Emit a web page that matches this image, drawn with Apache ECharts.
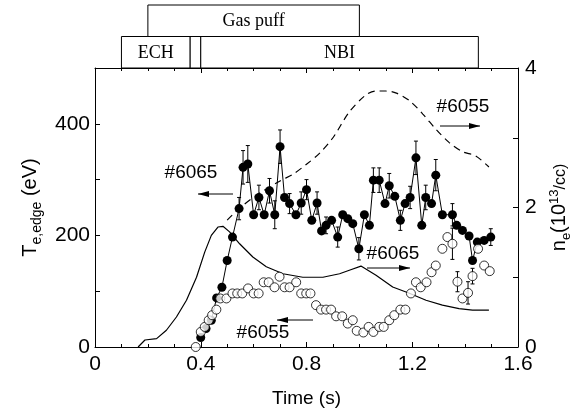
<!DOCTYPE html>
<html>
<head>
<meta charset="utf-8">
<script src="https://cdn.jsdelivr.net/npm/echarts@6/dist/echarts.min.js"></script>
<style>
  html, body { margin: 0; padding: 0; background: #fff; }
  #main { width: 584px; height: 420px; }
</style>
</head>
<body>
<div id="main"></div>
<script>
// Te,edge of shot #6065 (filled circles, with error bars)
var time6065 = [0.40, 0.42, 0.44, 0.46, 0.48, 0.50, 0.52, 0.545, 0.56, 0.578, 0.60, 0.62, 0.64, 0.66, 0.68, 0.70, 0.717, 0.736, 0.76, 0.78, 0.80, 0.82, 0.84, 0.857, 0.874, 0.895, 0.918, 0.937, 0.956, 0.975, 0.998, 1.019, 1.038, 1.053, 1.075, 1.097, 1.113, 1.134, 1.155, 1.173, 1.192, 1.214, 1.236, 1.251, 1.273, 1.289, 1.314, 1.352, 1.368, 1.39, 1.415, 1.428, 1.446, 1.472, 1.497];
var te6065 = [17, 33, 48, 88, 107, 155, 197, 248, 322, 328, 237, 268, 237, 280, 237, 359, 268, 257, 237, 258, 282, 227, 258, 208, 218, 227, 197, 237, 230, 221, 176, 237, 218, 299, 299, 257, 289, 270, 227, 257, 268, 339, 218, 268, 257, 308, 237, 237, 218, 209, 199, 155, 188, 191, 197];
var teErr6065 = [0, 0, 0, 0, 0, 0, 0, 20, 30, 33, 0, 22, 0, 22, 25, 30, 0, 18, 0, 20, 18, 0, 20, 0, 15, 0, 18, 0, 0, 0, 20, 0, 0, 22, 22, 0, 22, 0, 18, 0, 20, 30, 0, 22, 0, 28, 0, 20, 0, 0, 0, 0, 0, 0, 15];

// Te,edge of shot #6055 (open circles)
var time6055 = [0.381, 0.40, 0.415, 0.43, 0.443, 0.459, 0.474, 0.497, 0.52, 0.538, 0.557, 0.579, 0.60, 0.619, 0.638, 0.657, 0.679, 0.698, 0.717, 0.736, 0.761, 0.78, 0.799, 0.815, 0.836, 0.855, 0.874, 0.893, 0.912, 0.935, 0.956, 0.975, 0.99, 1.015, 1.035, 1.053, 1.075, 1.092, 1.113, 1.132, 1.155, 1.174, 1.195, 1.214, 1.232, 1.254, 1.273, 1.289, 1.314, 1.333, 1.352, 1.371, 1.39, 1.411, 1.428, 1.449, 1.472, 1.493];
var te6055 = [0, 27, 36, 48, 57, 67, 87, 87, 96, 96, 96, 105, 96, 96, 116, 116, 107, 126, 107, 107, 116, 96, 96, 96, 75, 67, 67, 67, 55, 55, 42, 48, 29, 26, 36, 27, 36, 36, 48, 57, 67, 67, 96, 116, 107, 116, 134, 146, 176, 197, 185, 117, 87, 97, 127, 176, 146, 136];
var teErr6055 = [0, 0, 0, 0, 0, 0, 0, 0, 0, 0, 0, 0, 0, 0, 0, 0, 0, 0, 0, 0, 0, 0, 0, 0, 0, 0, 0, 0, 0, 0, 0, 0, 0, 0, 0, 0, 0, 0, 0, 0, 0, 0, 0, 0, 0, 0, 0, 0, 0, 0, 28, 18, 0, 20, 14, 0, 0, 0];

// line density ne (right axis)
var neTime6065 = [0.163, 0.189, 0.233, 0.27, 0.308, 0.346, 0.384, 0.415, 0.44, 0.465, 0.484, 0.509, 0.547, 0.597, 0.648, 0.711, 0.786, 0.862, 0.925, 0.962, 1.006, 1.063, 1.126, 1.189, 1.252, 1.314, 1.377, 1.428, 1.49];
var ne6065 = [0, 0.1, 0.12, 0.24, 0.43, 0.67, 1.0, 1.36, 1.6, 1.72, 1.73, 1.65, 1.48, 1.29, 1.15, 1.05, 1.0, 1.0, 1.05, 1.1, 1.16, 1.03, 0.86, 0.77, 0.67, 0.6, 0.55, 0.53, 0.53];
var neTime6055 = [0.5, 0.55, 0.62, 0.70, 0.75, 0.80, 0.85, 0.90, 0.96, 1.02, 1.06, 1.10, 1.14, 1.19, 1.24, 1.29, 1.34, 1.39, 1.44, 1.49];
var ne6055 = [1.82, 2.0, 2.2, 2.38, 2.48, 2.62, 2.78, 3.0, 3.36, 3.6, 3.67, 3.67, 3.64, 3.53, 3.34, 3.12, 2.93, 2.8, 2.74, 2.58];

// heating / fuelling phases: [start, end, row, label]
var phases = [
  [0.10, 0.36, 0, 'ECH'],
  [0.36, 0.40, 0, ''],
  [0.40, 1.45, 0, 'NBI'],
  [0.20, 1.00, 1, 'Gas puff']
];

var xTicks = { min: 0, max: 1.6, interval: 0.4 };

function zip(a, b) { return a.map(function (v, i) { return [v, b[i]]; }); }
function zip3(a, b, c) { return a.map(function (v, i) { return [v, b[i], c[i] || 0]; }); }

var sans = 'Liberation Sans, Arial, sans-serif';
var serif = 'Liberation Serif, Times New Roman, serif';

function errorBars(params, api) {
  var e = api.value(2);
  if (!e) return null;
  var x = api.value(0), y = api.value(1);
  var lo = api.coord([x, y - e]), hi = api.coord([x, y + e]);
  var w = 2;
  return {
    type: 'group',
    children: [
      { type: 'line', shape: { x1: lo[0], y1: lo[1], x2: hi[0], y2: hi[1] }, style: { stroke: '#000', lineWidth: 1 } },
      { type: 'line', shape: { x1: hi[0] - w, y1: hi[1], x2: hi[0] + w, y2: hi[1] }, style: { stroke: '#000', lineWidth: 1 } },
      { type: 'line', shape: { x1: lo[0] - w, y1: lo[1], x2: lo[0] + w, y2: lo[1] }, style: { stroke: '#000', lineWidth: 1 } }
    ]
  };
}

function phaseBox(params, api) {
  var p1 = api.coord([api.value(0), api.value(2) + 1]);
  var p2 = api.coord([api.value(1), api.value(2)]);
  var label = phases[params.dataIndex][3];
  return {
    type: 'group',
    children: [
      { type: 'rect', shape: { x: p1[0], y: p1[1], width: p2[0] - p1[0], height: p2[1] - p1[1] },
        style: { fill: '#fff', stroke: '#000', lineWidth: 1 } },
      { type: 'text', style: { text: label, x: (p1[0] + p2[0]) / 2, y: (p1[1] + p2[1]) / 2 + 1,
        align: 'center', verticalAlign: 'middle', font: '18px ' + serif, fill: '#000' } }
    ]
  };
}

function arrow(x1, x2, y) {
  var d = x2 > x1 ? -1 : 1;
  return [
    { type: 'line', shape: { x1: x1, y1: y, x2: x2, y2: y }, style: { stroke: '#000', lineWidth: 1 } },
    { type: 'polygon', shape: { points: [[x2, y], [x2 + d * 11, y - 3], [x2 + d * 11, y + 3]] }, style: { fill: '#000' } }
  ];
}
function label(text, x, y) {
  return { type: 'text', style: { text: text, x: x, y: y, align: 'center', verticalAlign: 'middle', font: '19px ' + sans, fill: '#000' } };
}

function axisBase() {
  return {
    axisLine: { show: true, onZero: false, lineStyle: { color: '#000', width: 1 } },
    axisTick: { show: true, inside: true, length: 5, lineStyle: { color: '#000' } },
    splitLine: { show: false }
  };
}
var minor = { show: true, splitNumber: 4, length: 3, lineStyle: { color: '#000' } };

var chart = echarts.init(document.getElementById('main'));
chart.setOption({
  backgroundColor: '#fff',
  animation: false,
  grid: [
    { left: 95, right: 66, top: 68, bottom: 73 },
    { left: 95, right: 66, top: 5, height: 63 }
  ],
  xAxis: [
    Object.assign(axisBase(), xTicks, {
      type: 'value', gridIndex: 0, position: 'bottom',
      minorTick: minor,
      axisLabel: { color: '#000', fontSize: 21, fontFamily: sans, margin: 7 },
      name: 'Time (s)', nameLocation: 'middle', nameGap: 42,
      nameTextStyle: { color: '#000', fontSize: 19, fontFamily: sans }
    }),
    Object.assign(axisBase(), xTicks, {
      type: 'value', gridIndex: 0, position: 'top',
      minorTick: minor,
      axisLabel: { show: false }
    }),
    { type: 'value', gridIndex: 1, min: 0, max: 1.6, show: false }
  ],
  yAxis: [
    Object.assign(axisBase(), {
      type: 'value', gridIndex: 0, position: 'left', min: 0, max: 500, interval: 100,
      axisLabel: { color: '#000', fontSize: 21, fontFamily: sans, margin: 5,
        formatter: function (v) { return v % 200 === 0 ? String(v) : ''; } },
      name: '{a|T}{b|e,edge}{a| (eV)}', nameLocation: 'middle', nameGap: 44, nameRotate: 90,
      nameTextStyle: { rich: {
        a: { fontSize: 20, fontFamily: sans, color: '#000', verticalAlign: 'top', padding: [0, 0, 0, 0] },
        b: { fontSize: 14, fontFamily: sans, color: '#000', verticalAlign: 'top', padding: [10, 0, 0, 0] }
      } }
    }),
    Object.assign(axisBase(), {
      type: 'value', gridIndex: 0, position: 'right', min: 0, max: 4, interval: 1,
      axisLabel: { color: '#000', fontSize: 21, fontFamily: sans, margin: 7,
        formatter: function (v) { return v % 2 === 0 ? String(v) : ''; } },
      name: '{a|n}{b|e}{a|(10}{c|13}{d|/cc)}', nameLocation: 'middle', nameGap: 19, nameRotate: 90,
      nameTextStyle: { rich: {
        a: { fontSize: 20, fontFamily: sans, color: '#000', verticalAlign: 'top', padding: [2, 0, 0, 0] },
        b: { fontSize: 13, fontFamily: sans, color: '#000', verticalAlign: 'top', padding: [12, 0, 0, 0] },
        c: { fontSize: 13, fontFamily: sans, color: '#000', verticalAlign: 'top', padding: [0, 0, 0, 0] },
        d: { fontSize: 16, fontFamily: sans, color: '#000', verticalAlign: 'top', padding: [5, 0, 0, 0] }
      } }
    }),
    { type: 'value', gridIndex: 1, min: 0, max: 2, show: false }
  ],
  series: [
    { type: 'line', xAxisIndex: 0, yAxisIndex: 1, data: zip(neTime6065, ne6065), showSymbol: false,
      lineStyle: { color: '#000', width: 1.2 }, z: 2 },
    { type: 'line', xAxisIndex: 0, yAxisIndex: 1, data: zip(neTime6055, ne6055), showSymbol: false, smooth: 0.3,
      lineStyle: { color: '#000', width: 1.2, type: [7, 5] }, z: 2 },
    { type: 'custom', xAxisIndex: 0, yAxisIndex: 0, data: zip3(time6065, te6065, teErr6065), renderItem: errorBars, z: 3 },
    { type: 'line', xAxisIndex: 0, yAxisIndex: 0, data: zip(time6065, te6065), symbol: 'circle', symbolSize: 9,
      itemStyle: { color: '#000' }, lineStyle: { color: '#000', width: 1 }, z: 4 },
    { type: 'custom', xAxisIndex: 0, yAxisIndex: 0, data: zip3(time6055, te6055, teErr6055), renderItem: errorBars, z: 3 },
    { type: 'scatter', xAxisIndex: 0, yAxisIndex: 0, data: zip(time6055, te6055), symbol: 'circle', symbolSize: 9,
      itemStyle: { color: '#fff', borderColor: '#000', borderWidth: 1 }, z: 5 },
    { type: 'custom', xAxisIndex: 2, yAxisIndex: 2, data: phases.map(function (p) { return [p[0], p[1], p[2]]; }),
      renderItem: phaseBox, z: 1 }
  ],
  graphic: [
    label('#6065', 191, 173),
    label('#6055', 463, 107),
    label('#6065', 393, 254),
    label('#6055', 263, 333)
  ].concat(arrow(233, 198, 194), arrow(440, 480, 126), arrow(367, 410, 268), arrow(313, 277, 320))
});
</script>
</body>
</html>
